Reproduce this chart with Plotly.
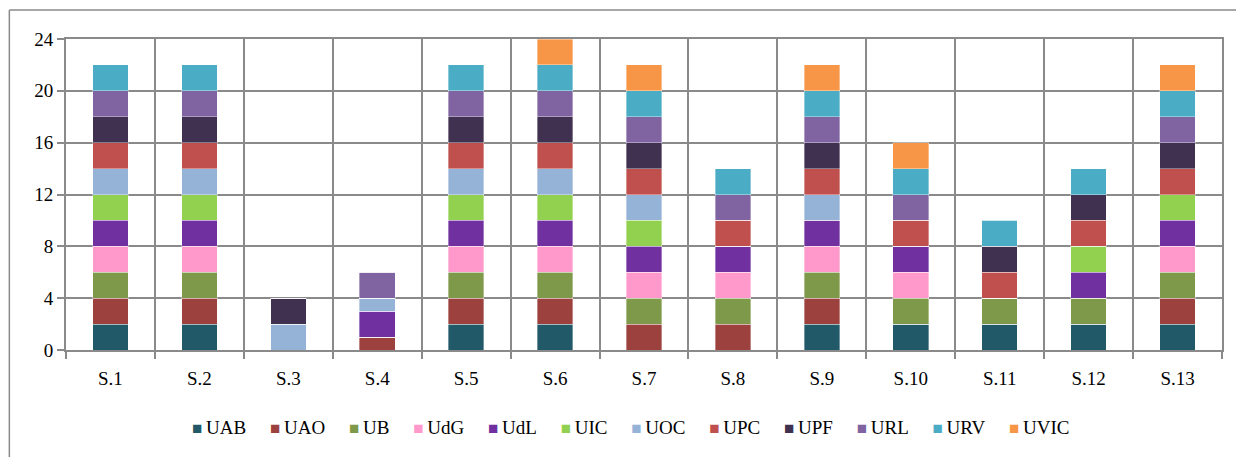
import plotly.graph_objects as go

# ── Data ─────────────────────────────────────────────────────────────────────
CATEGORIES = ["S.1", "S.2", "S.3", "S.4", "S.5", "S.6", "S.7",
              "S.8", "S.9", "S.10", "S.11", "S.12", "S.13"]

UAB  = [2, 2, 0, 0, 2, 2, 0, 0, 2, 2, 2, 2, 2]
UAO  = [2, 2, 0, 1, 2, 2, 2, 2, 2, 0, 0, 0, 2]
UB   = [2, 2, 0, 0, 2, 2, 2, 2, 2, 2, 2, 2, 2]
UdG  = [2, 2, 0, 0, 2, 2, 2, 2, 2, 2, 0, 0, 2]
UdL  = [2, 2, 0, 2, 2, 2, 2, 2, 2, 2, 0, 2, 2]
UIC  = [2, 2, 0, 0, 2, 2, 2, 0, 0, 0, 0, 2, 2]
UOC  = [2, 2, 2, 1, 2, 2, 2, 0, 2, 0, 0, 0, 0]
UPC  = [2, 2, 0, 0, 2, 2, 2, 2, 2, 2, 2, 2, 2]
UPF  = [2, 2, 2, 0, 2, 2, 2, 0, 2, 0, 2, 2, 2]
URL  = [2, 2, 0, 2, 2, 2, 2, 2, 2, 2, 0, 0, 2]
URV  = [2, 2, 0, 0, 2, 2, 2, 2, 2, 2, 2, 2, 2]
UVIC = [0, 0, 0, 0, 0, 2, 2, 0, 2, 2, 0, 0, 2]

Y_TICKS = [0, 4, 8, 12, 16, 20, 24]

SERIES = [
    ("UAB",  UAB,  "#215968"),
    ("UAO",  UAO,  "#9C413D"),
    ("UB",   UB,   "#7F994A"),
    ("UdG",  UdG,  "#FF99CC"),
    ("UdL",  UdL,  "#7030A0"),
    ("UIC",  UIC,  "#92D050"),
    ("UOC",  UOC,  "#95B3D7"),
    ("UPC",  UPC,  "#C0504D"),
    ("UPF",  UPF,  "#403151"),
    ("URL",  URL,  "#8064A2"),
    ("URV",  URV,  "#4BACC6"),
    ("UVIC", UVIC, "#F79646"),
]

GRID = "#8a8a8a"
FONT = "Liberation Serif"
FS = 19

fig = go.Figure()
for name, vals, color in SERIES:
    fig.add_trace(go.Bar(
        x=CATEGORIES, y=vals, name=name,
        marker=dict(color=color, line=dict(width=0.6, color="rgba(255,255,255,0.6)")),
    ))

# ── Compact legend (Excel-like: small square right next to the label) ───────
legend_text = ("\u00a0" * 5).join(
    f'<span style="color:{color};font-size:17px">■</span>\u2009{name}'
    for name, _, color in SERIES
)

# the page body adds an 8px margin, so the figure is 8px smaller than the window
fig.update_layout(
    barmode="stack",
    bargap=0.6,
    width=1236, height=449,
    paper_bgcolor="white",
    plot_bgcolor="white",
    font=dict(family=FONT, color="#000000", size=FS),
    margin=dict(l=58, r=22, t=31, b=107),
    showlegend=False,
    annotations=[
        dict(text=legend_text, showarrow=False,
             xref="paper", yref="paper",
             x=(630 - 66) / 1156, y=-(427 - 350) / 311,
             xanchor="center", yanchor="middle",
             font=dict(family=FONT, size=FS, color="#000000")),
    ],
    shapes=[
        dict(type="line", xref="paper", yref="paper",
             x0=-0.049, x1=1.1, y0=1.093, y1=1.093,
             line=dict(color=GRID, width=1.5)),
        dict(type="line", xref="paper", yref="paper",
             x0=-0.049, x1=-0.049, y0=1.093, y1=-0.4,
             line=dict(color=GRID, width=1.5)),
    ],
)

fig.update_xaxes(
    type="category",
    tickson="boundaries",
    showgrid=True, gridcolor=GRID, gridwidth=2,
    ticks="outside", ticklen=7, tickcolor=GRID, tickwidth=2,
    showline=True, linecolor=GRID, linewidth=2, mirror=True,
    ticklabelstandoff=10,
    tickfont=dict(family=FONT, size=FS),
)
fig.update_yaxes(
    range=[0, 24],
    tickvals=Y_TICKS,
    showgrid=True, gridcolor=GRID, gridwidth=2,
    ticks="outside", ticklen=7, tickcolor=GRID, tickwidth=2,
    showline=True, linecolor=GRID, linewidth=2, mirror=True,
    zeroline=False,
    tickfont=dict(family=FONT, size=FS),
)

fig.write_html("out.html")
